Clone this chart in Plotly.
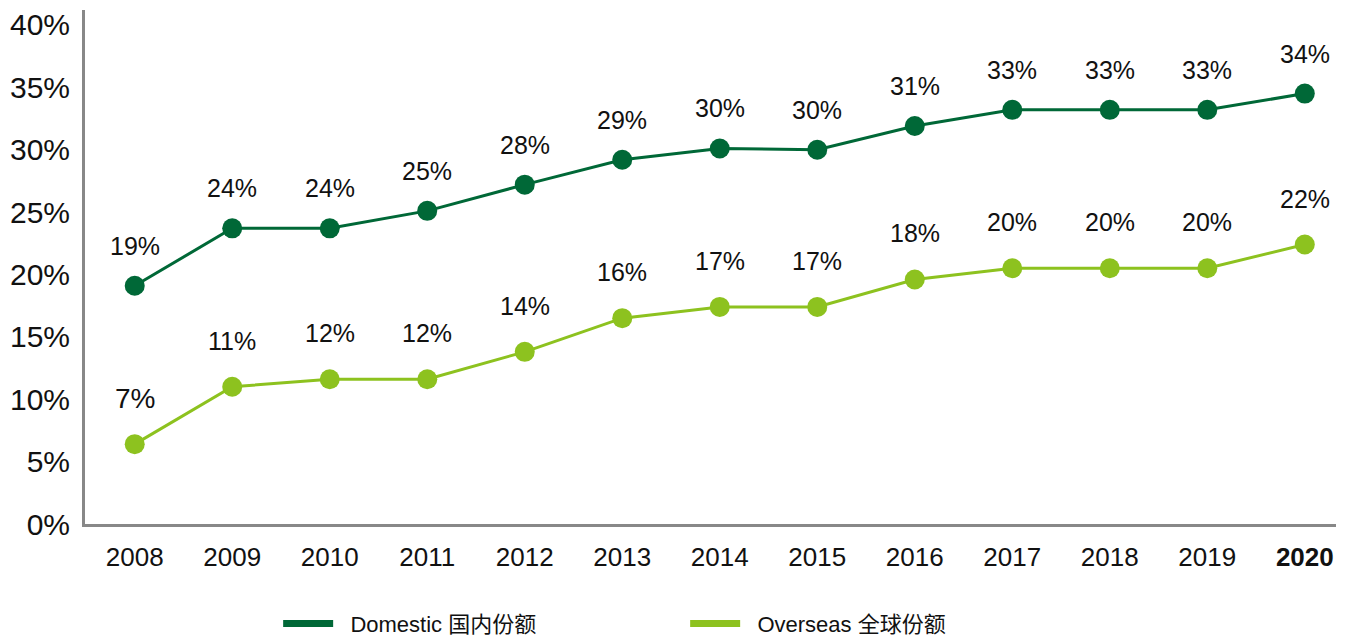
import plotly.graph_objects as go

years = [2008, 2009, 2010, 2011, 2012, 2013, 2014, 2015, 2016, 2017, 2018, 2019, 2020]
year_labels = ["2008", "2009", "2010", "2011", "2012", "2013", "2014", "2015", "2016", "2017", "2018", "2019", "<b>2020</b>"]
domestic = [19.1, 23.7, 23.7, 25.1, 27.2, 29.2, 30.1, 30.0, 31.9, 33.2, 33.2, 33.2, 34.5]
overseas = [6.4, 11.0, 11.6, 11.6, 13.8, 16.5, 17.4, 17.4, 19.6, 20.5, 20.5, 20.5, 22.4]
domestic_labels = ["19%", "24%", "24%", "25%", "28%", "29%", "30%", "30%", "31%", "33%", "33%", "33%", "34%"]
overseas_labels = ["7%", "11%", "12%", "12%", "14%", "16%", "17%", "17%", "18%", "20%", "20%", "20%", "22%"]
y_ticks = [0, 5, 10, 15, 20, 25, 30, 35, 40]
y_ticklabels = ["0%", "5%", "10%", "15%", "20%", "25%", "30%", "35%", "40%"]

DARK = "#006837"
LIGHT = "#8dc21f"
FONT = "Liberation Sans, Noto Sans CJK SC, sans-serif"
LEGEND_FONT = "Liberation Sans Narrow, Liberation Sans, Noto Sans CJK SC, sans-serif"

fig = go.Figure()
fig.add_trace(go.Scatter(x=years, y=domestic, mode="lines+markers",
                         line=dict(color=DARK, width=3), marker=dict(size=20, color=DARK),
                         showlegend=False, hoverinfo="skip"))
fig.add_trace(go.Scatter(x=years, y=overseas, mode="lines+markers",
                         line=dict(color=LIGHT, width=3), marker=dict(size=20, color=LIGHT),
                         showlegend=False, hoverinfo="skip"))
# legend entries (line only)
fig.add_trace(go.Scatter(x=[None], y=[None], mode="lines", name="\u00a0\u00a0Domestic 国内份额",
                         line=dict(color=DARK, width=7)))
fig.add_trace(go.Scatter(x=[None], y=[None], mode="lines", name="\u00a0\u00a0Overseas 全球份额",
                         line=dict(color=LIGHT, width=7)))

for x, y, t in zip(years, domestic, domestic_labels):
    fig.add_annotation(x=x, y=y, text=t, showarrow=False, yshift=40,
                       font=dict(size=25, color="#111", family=FONT))
for i, (x, y, t) in enumerate(zip(years, overseas, overseas_labels)):
    fig.add_annotation(x=x, y=y, text=t, showarrow=False, yshift=46,
                       font=dict(size=28 if i == 0 else 25, color="#111", family=FONT))

fig.update_layout(
    width=1351, height=638,
    margin=dict(l=85, r=15, t=10, b=114, autoexpand=False),
    paper_bgcolor="white", plot_bgcolor="white",
    font=dict(family=FONT, color="#111"),
    xaxis=dict(range=[2007.49, 2020.32], tickvals=years, ticktext=year_labels,
               showgrid=False, zeroline=False, showline=True, linecolor="#888", linewidth=3,
               ticks="", tickfont=dict(size=26, color="#111"), ticklabelstandoff=8,
               automargin=False),
    yaxis=dict(range=[0, 41.2], tickvals=y_ticks, ticktext=y_ticklabels,
               showgrid=False, zeroline=False, showline=True, linecolor="#888", linewidth=3,
               ticks="", tickfont=dict(size=30, color="#111"), ticklabelstandoff=6,
               automargin=False),
    legend=dict(orientation="h", x=0.1544, y=-0.194, xanchor="left", yanchor="middle",
                entrywidth=342, entrywidthmode="pixels",
                font=dict(size=22, color="#111", family=LEGEND_FONT), itemwidth=50),
)

fig.write_html("out.html", config={"displayModeBar": False},
               post_script="document.body.style.margin='0';document.body.style.overflow='hidden';")
